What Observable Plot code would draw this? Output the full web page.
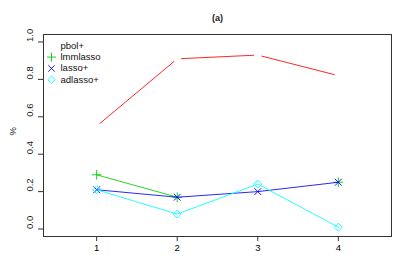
<!DOCTYPE html>
<html>
<head>
<meta charset="utf-8">
<script src="https://cdn.jsdelivr.net/npm/d3@7"></script>
<script src="https://cdn.jsdelivr.net/npm/@observablehq/plot@0.6"></script>
<style>
  html, body { margin: 0; padding: 0; background: #fff; }
  svg { display: block; }
</style>
</head>
<body>
<div id="chart"></div>
<script>
const xs = [1, 2, 3, 4];
const pbol = [0.55, 0.91, 0.93, 0.82];
const lmmlasso = [0.29, 0.17, null, 0.25];
const lasso = [0.21, 0.17, 0.20, 0.25];
const adlasso = [0.21, 0.08, 0.24, 0.01];
const yTicks = [0, 0.2, 0.4, 0.6, 0.8, 1.0];
const xTicks = [1, 2, 3, 4];
const seriesNames = ["pbol+", "lmmlasso", "lasso+", "adlasso+"];
const colors = ["#FF0000", "#00CD00", "#0000FF", "#00FFFF"];
const symbols = [null, "plus", "times", "diamond2"];
const titleText = "(a)";
const yLabel = "%";

const seriesValues = [pbol, lmmlasso, lasso, adlasso];
const data = seriesValues.map((vals, i) => xs.map((x, j) => ({x, y: vals[j], s: seriesNames[i]})));

const font = "'Liberation Sans', Arial, Helvetica, sans-serif";
const marks = [];

// axes
marks.push(Plot.axisX(xTicks, {tickSize: 5, tickPadding: 3, fontSize: 9.5, label: null, stroke: "#333"}));
marks.push(Plot.axisY(yTicks, {tickSize: 5, tickFormat: () => "", label: null, stroke: "#333"}));
marks.push(Plot.text(yTicks, {y: d => d, frameAnchor: "left", dx: -14, rotate: -90, text: d3.format(".1f"), fontSize: 9.5, fill: "#222"}));
marks.push(Plot.text([yLabel], {frameAnchor: "left", dx: -31, rotate: -90, text: d => d, fontSize: 9.5, fill: "#222"}));
marks.push(Plot.text([titleText], {frameAnchor: "top", dy: -16, lineAnchor: "middle", text: d => d, fontSize: 9, fontWeight: "bold", fill: "#222"}));

// series
data.forEach((d, i) => {
  marks.push(Plot.line(d, {x: "x", y: "y", stroke: colors[i], strokeWidth: 0.85}));
  if (symbols[i]) {
    marks.push(Plot.dot(d, {x: "x", y: "y", symbol: symbols[i], stroke: colors[i], r: symbols[i] === "diamond2" ? 3.6 : 3.2, strokeWidth: 0.9}));
  } else {
    // type "b": gaps around the points
    marks.push(Plot.dot(d, {x: "x", y: "y", fill: "white", stroke: "none", r: 3.8}));
  }
});

// legend (no box)
seriesNames.forEach((name, i) => {
  const dy = 11.3 + i * 11.3;
  if (symbols[i]) {
    marks.push(Plot.dot([name], {frameAnchor: "top-left", dx: 8, dy, symbol: symbols[i], stroke: colors[i], r: symbols[i] === "diamond2" ? 3.3 : 3, strokeWidth: 0.9}));
  }
  marks.push(Plot.text([name], {frameAnchor: "top-left", dx: 17, dy, lineAnchor: "middle", text: d => d, textAnchor: "start", fontSize: 9.5, fill: "#111"}));
});

marks.push(Plot.frame({stroke: "#333", strokeWidth: 1}));

const chart = Plot.plot({
  width: 409,
  height: 279,
  marginLeft: 43,
  marginRight: 18,
  marginTop: 34,
  marginBottom: 43,
  style: {fontFamily: font, background: "#fff"},
  x: {domain: [0.34, 4.66], axis: null},
  y: {domain: [-0.04, 1.04], axis: null},
  marks
});
document.getElementById("chart").appendChild(chart);
</script>
</body>
</html>
